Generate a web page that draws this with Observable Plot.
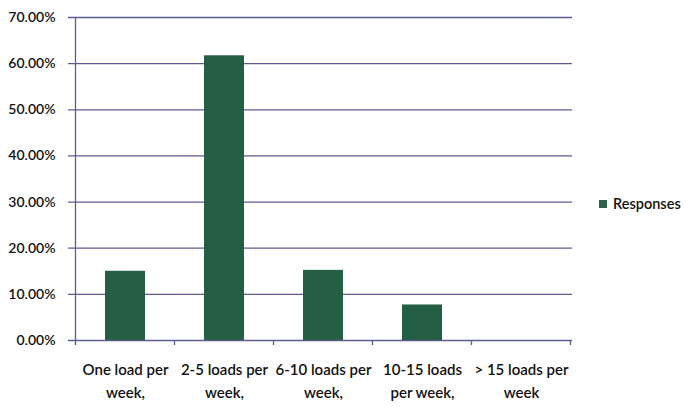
<!DOCTYPE html>
<html>
<head>
<meta charset="utf-8">
<script src="https://cdn.jsdelivr.net/npm/d3@7"></script>
<script src="https://cdn.jsdelivr.net/npm/@observablehq/plot@0.6"></script>
<style>
  html, body { margin: 0; padding: 0; background: #fff; }
  #wrap { position: relative; width: 686px; height: 407px; font-family: Lato, "Open Sans", sans-serif; }
  #legend { position: absolute; left: 599px; top: 195px; display: flex; align-items: center; font-size: 14.5px; color: #111; font-weight: 600; }
  #legend .sw { width: 8px; height: 8px; background: #2b6448; margin-right: 6px; }
</style>
</head>
<body>
<div id="wrap">
  <div id="chart"></div>
  <div id="legend"><div class="sw"></div><span id="legendLabel"></span></div>
</div>
<script>
const categories = [
  "One load per\nweek,",
  "2-5 loads per\nweek,",
  "6-10 loads per\nweek,",
  "10-15 loads\nper week,",
  "> 15 loads per\nweek"
];
const responses = [0.150, 0.617, 0.152, 0.077, 0.0];
const yTicks = [0, 0.1, 0.2, 0.3, 0.4, 0.5, 0.6, 0.7];
const seriesName = "Responses";

const data = categories.map((c, i) => ({category: c, value: responses[i]}));
const barColor = "#245e43";
const gridColor = "#5b5b94";

const plot = Plot.plot({
  width: 590,
  height: 407,
  marginLeft: 73,
  marginRight: 18,
  marginTop: 17,
  marginBottom: 67,
  style: {fontFamily: "Lato, 'Open Sans', sans-serif", fontSize: "13px", color: "#111", background: "#fff"},
  x: {domain: categories, paddingInner: 0.6, paddingOuter: 0.3, label: null},
  y: {domain: [0, 0.7], label: null},
  marks: [
    Plot.ruleY(yTicks, {stroke: gridColor, strokeWidth: 1.3, insetLeft: -5}),
    Plot.barY(data, {x: "category", y: "value", fill: barColor}),
    Plot.axisY(yTicks, {tickSize: 0, tickPadding: 18, tickFormat: d3.format(".2%"), fontSize: 14, fontWeight: 600, label: null}),
    Plot.axisX({tickSize: 0, tickPadding: 19, fontSize: 15, fontWeight: 600, lineHeight: 1.5, label: null})
  ]
});
document.getElementById("chart").appendChild(plot);
document.getElementById("legendLabel").textContent = seriesName;

// y-axis line and category boundary ticks, positioned from the Plot scales
const xs = plot.scale("x");
const ys = plot.scale("y");
const svg = d3.select(plot);
const gap = (xs.step - xs.bandwidth) / 2;
const bounds = categories.map(c => xs.apply(c) - gap);
bounds.push(xs.apply(categories[categories.length - 1]) + xs.bandwidth + gap);
const y0 = ys.apply(0);
const yTop = ys.apply(0.7);
const g = svg.append("g").attr("stroke", gridColor).attr("stroke-width", 1.3);
g.append("line").attr("x1", bounds[0]).attr("x2", bounds[0]).attr("y1", yTop).attr("y2", y0 + 5);
bounds.slice(1).forEach(b => {
  g.append("line").attr("x1", b).attr("x2", b).attr("y1", y0).attr("y2", y0 + 5);
});
</script>
</body>
</html>
